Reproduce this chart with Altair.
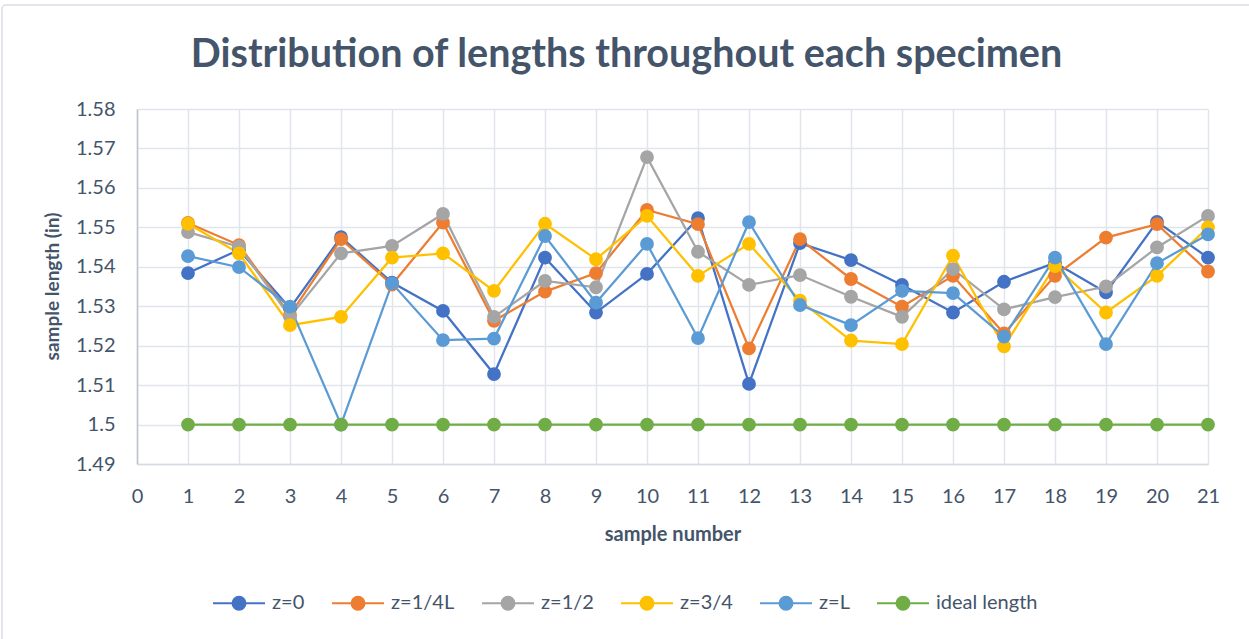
import altair as alt
import pandas as pd

# sample numbers along the specimen
samples = list(range(1, 22))

# measured lengths (in) at each axial position
z_0 = [1.5384, 1.5443, 1.5295, 1.5475, 1.5360, 1.5288, 1.5128, 1.5423, 1.5284, 1.5382, 1.5523,
       1.5103, 1.5460, 1.5417, 1.5354, 1.5284, 1.5362, 1.5410, 1.5335, 1.5514, 1.5423]
z_quarter = [1.5511, 1.5455, 1.5278, 1.5470, 1.5355, 1.5512, 1.5263, 1.5337, 1.5384, 1.5544, 1.5508,
             1.5193, 1.5470, 1.5369, 1.5299, 1.5377, 1.5231, 1.5377, 1.5474, 1.5508, 1.5388]
z_half = [1.5488, 1.5451, 1.5273, 1.5434, 1.5453, 1.5534, 1.5273, 1.5364, 1.5348, 1.5678, 1.5438,
          1.5354, 1.5379, 1.5324, 1.5273, 1.5394, 1.5292, 1.5323, 1.5350, 1.5449, 1.5529]
z_three_quarter = [1.5509, 1.5434, 1.5252, 1.5273, 1.5423, 1.5434, 1.5339, 1.5509, 1.5419, 1.5529, 1.5377,
                   1.5458, 1.5314, 1.5213, 1.5204, 1.5428, 1.5198, 1.5402, 1.5284, 1.5377, 1.5500]
z_L = [1.5427, 1.5399, 1.5299, 1.5000, 1.5358, 1.5214, 1.5218, 1.5478, 1.5309, 1.5458, 1.5219,
       1.5513, 1.5303, 1.5252, 1.5339, 1.5333, 1.5223, 1.5423, 1.5204, 1.5409, 1.5482]
ideal = [1.5, 1.5, 1.5, 1.5, 1.5, 1.5, 1.5, 1.5, 1.5, 1.5, 1.5,
         1.5, 1.5, 1.5, 1.5, 1.5, 1.5, 1.5, 1.5, 1.5, 1.5]

series_names = ["z=0", "z=1/4L", "z=1/2", "z=3/4", "z=L", "ideal length"]
series_values = [z_0, z_quarter, z_half, z_three_quarter, z_L, ideal]
series_colors = ["#4472C4", "#ED7D31", "#A5A5A5", "#FFC000", "#5B9BD5", "#70AD47"]

y_ticks = [1.49, 1.50, 1.51, 1.52, 1.53, 1.54, 1.55, 1.56, 1.57, 1.58]
x_ticks = list(range(0, 22))

rows = []
for order, (name, vals) in enumerate(zip(series_names, series_values)):
    for s, v in zip(samples, vals):
        rows.append({"sample": s, "length": v, "series": name, "k": order})
df = pd.DataFrame(rows)

TEXT = "#44546A"
GRID = "#E1E5EB"

# legend glyph: a short line with a dot in the middle
legend_symbol = ("M-1,0L1,0M0.25,0A0.25,0.25,0,1,1,-0.25,0"
                 "A0.25,0.25,0,1,1,0.25,0Z")

series_scale = alt.Scale(domain=series_names, range=series_colors)
legend = alt.Legend(
    title=None, orient="none", direction="horizontal", columns=6,
    legendX=75, legendY=467, columnPadding=23,
    symbolType=legend_symbol, symbolSize=2704, symbolStrokeWidth=2,
    labelOffset=6, labelFontSize=20, labelColor=TEXT, padding=0,
)

x_enc = alt.X(
    "sample:Q",
    scale=alt.Scale(domain=[0, 21], nice=False, zero=False),
    axis=alt.Axis(values=x_ticks, format="d", title="sample number",
                  labelFontSize=20, labelColor=TEXT, labelPadding=22,
                  ticks=False, tickSize=0, grid=True, gridColor=GRID,
                  gridWidth=1.5, domainColor="#D5DBE3", domainWidth=1.5,
                  titleFontSize=20, titleFontWeight="bold", titleColor=TEXT,
                  titleBaseline="alphabetic", titleY=76, labelFlush=False),
)
y_enc = alt.Y(
    "length:Q",
    scale=alt.Scale(domain=[1.49, 1.58], nice=False, zero=False),
    axis=alt.Axis(values=y_ticks, format=".2~f", title="sample length (in)",
                  labelFontSize=20, labelColor=TEXT, labelPadding=22,
                  ticks=False, tickSize=0, grid=True, gridColor=GRID,
                  gridWidth=1.5, domainColor="#BAC3CF", domainWidth=1.5,
                  titleFontSize=19, titleFontWeight="bold", titleColor=TEXT,
                  titleAngle=270, titleX=-85, titleY=177,
                  titleAlign="center", titleBaseline="middle", labelFlush=False),
)

base = alt.Chart(df).encode(x=x_enc, y=y_enc)

lines = base.mark_line(strokeWidth=2.25).encode(
    stroke=alt.Stroke("series:N", scale=series_scale, sort=series_names, legend=legend),
    detail="series:N",
    order=alt.Order("sample:Q"),
)

points = base.mark_point(filled=True, size=140, opacity=1, strokeWidth=2).encode(
    fill=alt.Fill("series:N", scale=series_scale, sort=series_names, legend=legend),
    stroke=alt.Stroke("series:N", scale=series_scale, sort=series_names, legend=legend),
    order=alt.Order("k:Q"),
)

# thin outline framing the whole chart area
frame = alt.Chart(pd.DataFrame({"frame": [0]})).mark_rect(
    fill=None, stroke="#D9DDE3", strokeWidth=1.5, cornerRadius=4,
).encode(
    x=alt.value(-135), x2=alt.value(1150),
    y=alt.value(-104), y2=alt.value(560),
)

chart = alt.layer(frame, lines, points).properties(
    width=1071,
    height=355,
    title=alt.TitleParams("Distribution of lengths throughout each specimen",
                          fontSize=39.5, fontWeight="bold", color=TEXT,
                          anchor="middle", dx=-46, dy=102, offset=0, baseline="alphabetic"),
    padding={"left": 137, "top": 109, "right": 41, "bottom": 175},
    autosize=alt.AutoSizeParams(type="none"),
).configure(
    font="Lato",
    background="white",
).configure_view(stroke=None)

chart.save("out.html", embed_options={"renderer": "svg", "actions": False})
